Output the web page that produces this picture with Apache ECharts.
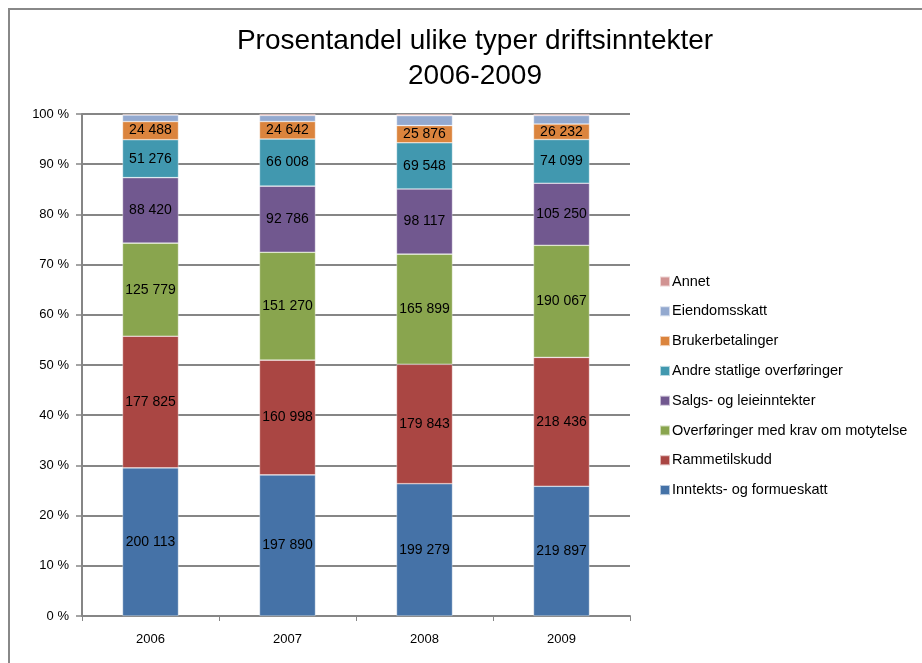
<!DOCTYPE html>
<html>
<head>
<meta charset="utf-8">
<script src="https://cdn.jsdelivr.net/npm/echarts@6/dist/echarts.min.js"></script>
<style>
  html, body { margin: 0; padding: 0; background: #fff; }
  #chart { width: 922px; height: 663px; }
</style>
</head>
<body>
<div id="chart"></div>
<script>
var years = ['2006', '2007', '2008', '2009'];
var yTicks = ['0 %', '10 %', '20 %', '30 %', '40 %', '50 %', '60 %', '70 %', '80 %', '90 %', '100 %'];

// driftsinntekter per type (1000 kr)
var inntektsskatt = [200113, 197890, 199279, 219897];
var rammetilskudd = [177825, 160998, 179843, 218436];
var overforingerMotytelse = [125779, 151270, 165899, 190067];
var salgLeie = [88420, 92786, 98117, 105250];
var andreStatlige = [51276, 66008, 69548, 74099];
var brukerbetalinger = [24488, 24642, 25876, 26232];
// not labelled in the picture
var eiendomsskatt = [8800, 8500, 15000, 14500];
var annet = [1400, 2000, 2500, 2500];

var seriesDefs = [
  { name: 'Inntekts- og formueskatt', data: inntektsskatt, color: '#4572A7', label: true },
  { name: 'Rammetilskudd', data: rammetilskudd, color: '#AA4643', label: true },
  { name: 'Overføringer med krav om motytelse', data: overforingerMotytelse, color: '#89A54E', label: true },
  { name: 'Salgs- og leieinntekter', data: salgLeie, color: '#71588F', label: true },
  { name: 'Andre statlige overføringer', data: andreStatlige, color: '#4198AF', label: true },
  { name: 'Brukerbetalinger', data: brukerbetalinger, color: '#DB843D', label: true },
  { name: 'Eiendomsskatt', data: eiendomsskatt, color: '#93A9CF', label: false },
  { name: 'Annet', data: annet, color: '#D19392', label: false }
];

var totals = years.map(function (y, i) {
  var s = 0;
  seriesDefs.forEach(function (d) { s += d.data[i]; });
  return s;
});

function fmt(v) {
  return String(v).replace(/\B(?=(\d{3})+(?!\d))/g, ' ');
}

var font = 'Liberation Sans';

var chart = echarts.init(document.getElementById('chart'));
chart.setOption({
  animation: false,
  backgroundColor: '#fff',
  textStyle: { fontFamily: font },
  title: {
    text: 'Prosentandel ulike typer driftsinntekter\n2006-2009',
    left: 470,
    top: 19,
    textAlign: 'center',
    textStyle: { fontSize: 28, fontWeight: 'normal', color: '#000', lineHeight: 35, fontFamily: font }
  },
  graphic: [{
    type: 'rect',
    shape: { x: 9, y: 9, width: 1000, height: 1000 },
    style: { fill: 'none', stroke: '#888', lineWidth: 2 },
    silent: true
  }],
  legend: {
    orient: 'vertical',
    left: 654,
    top: 269,
    itemWidth: 10,
    itemHeight: 10,
    itemGap: 14.8,
    icon: 'rect',
    textStyle: { fontSize: 14.5, color: '#000', fontFamily: font, padding: [0, 0, 0, -3] },
    data: seriesDefs.map(function (d) { return d.name; }).reverse()
  },
  grid: { left: 82, right: 292, top: 114, bottom: 47 },
  xAxis: {
    type: 'category',
    data: years,
    axisLine: { lineStyle: { color: '#868686', width: 2 } },
    axisTick: { show: true, length: 5, lineStyle: { color: '#868686' } },
    axisLabel: { color: '#000', fontSize: 13, margin: 17 }
  },
  yAxis: {
    type: 'value',
    min: 0,
    max: 100,
    interval: 10,
    axisLine: { show: true, lineStyle: { color: '#868686', width: 2 } },
    axisTick: { show: true, length: 6, lineStyle: { color: '#868686', width: 1.5 } },
    splitLine: { lineStyle: { color: '#868686', width: 2 } },
    axisLabel: {
      color: '#000', fontSize: 13, margin: 13,
      formatter: function (v) { return yTicks[Math.round(v / 10)]; }
    }
  },
  series: seriesDefs.map(function (d) {
    return {
      name: d.name,
      type: 'bar',
      stack: 'total',
      barWidth: 56,
      itemStyle: { color: d.color, borderColor: 'rgba(255,255,255,0.6)', borderWidth: 0.6 },
      label: {
        show: d.label,
        position: 'inside',
        color: '#000',
        fontSize: 14,
        fontFamily: font,
        formatter: function (p) { return fmt(d.data[p.dataIndex]); }
      },
      data: d.data.map(function (v, i) { return v / totals[i] * 100; })
    };
  })
});
</script>
</body>
</html>
